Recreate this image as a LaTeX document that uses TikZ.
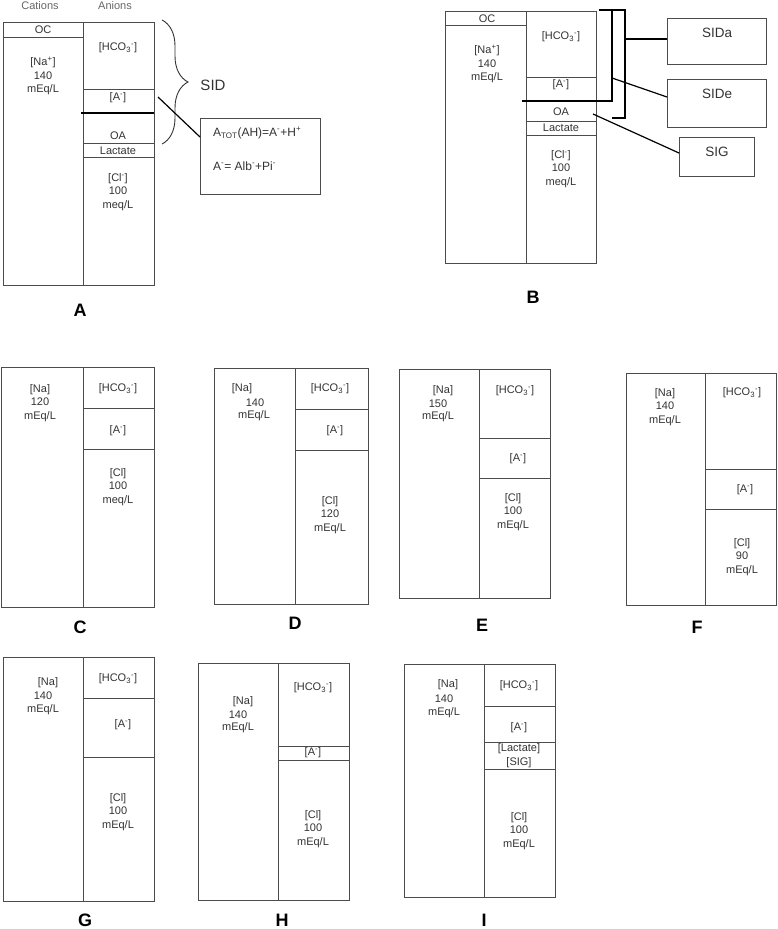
\documentclass[tikz,border=0pt]{standalone}
\usepackage{fontspec}
\setmainfont{Liberation Sans}
\usetikzlibrary{decorations.pathreplacing}
\definecolor{lg}{gray}{0.3}
\definecolor{tg}{gray}{0.2}
\definecolor{hg}{gray}{0.4}
\newcommand{\hco}{[HCO\textsubscript{3}\textsuperscript{-}]}
\newcommand{\amin}{[A\textsuperscript{-}]}
\begin{document}
\begin{tikzpicture}[x=1pt,y=-1pt,
  box/.style={draw=lg,line width=0.7pt},
  t/.style={font=\fontsize{11}{13.5}\selectfont,text=tg,align=center,inner sep=0pt},
  big/.style={font=\fontsize{13.5}{16}\selectfont,text=tg,inner sep=0pt},
  lbl/.style={font=\fontsize{18}{20}\selectfont\bfseries,inner sep=0pt},
  conn/.style={line width=1.2pt,black}]
\useasboundingbox (0,0) rectangle (777,929);

% ---------------- Panel A
\draw[box] (3,22) rectangle (154,285);
\draw[box] (83,22) -- (83,285);
\draw[box] (3,37) -- (83,37);
\draw[box] (83,89) -- (154,89);
\draw[conn] (81,113) -- (154,113);
\draw[box] (83,143) -- (154,143);
\draw[box] (83,157) -- (154,157);
\node[t,text=hg] (cat) at (40,6) {Cations};
\node[t,text=hg] (ani) at (115,6) {Anions};
\node[t] (aoc) at (43,30) {OC};
\node[t] (ana) at (43,76) {[Na\textsuperscript{+}]\\140\\mEq/L};
\node[t] (ahco) at (118,48) {\hco};
\node[t] (aa) at (118,98) {\amin};
\node[t] (aoa) at (118,136) {OA};
\node[t] (alac) at (118,151) {Lactate};
\node[t] (acl) at (118,192) {[Cl\textsuperscript{-}]\\100\\meq/L};
\draw[tg,line width=0.9pt,decorate,decoration={brace,amplitude=26pt}] (162,20) -- (162,144);
\node[font=\fontsize{15}{18}\selectfont,text=tg,inner sep=0pt] (sid) at (213,85) {SID};
\node[box,minimum width=120pt,minimum height=76pt,inner sep=0pt] (atot) at (260,156) {};
\node[font=\fontsize{12}{14}\selectfont,text=tg,anchor=west,inner sep=0pt] (atot1) at (213,133) {A\textsubscript{TOT}(AH)=A\textsuperscript{-}+H\textsuperscript{+}};
\node[font=\fontsize{12}{14}\selectfont,text=tg,anchor=west,inner sep=0pt] (atot2) at (213,166) {A\textsuperscript{-}= Alb\textsuperscript{-}+Pi\textsuperscript{-}};
\coordinate (la1) at (158,97);
\coordinate (la2) at (200,137);
\draw[conn] (la1) -- (la2);
\node[lbl] (labA) at (80,310) {A};

% ---------------- Panel B
\draw[box] (445,11) rectangle (596,263);
\draw[box] (526,11) -- (526,263);
\draw[box] (445,25) -- (526,25);
\draw[box] (526,77) -- (596,77);
\draw[box] (526,121) -- (596,121);
\draw[box] (526,135) -- (596,135);
\draw[conn] (599,10) -- (612,10) -- (612,101) -- (522,101);
\draw[conn] (613,10) -- (625,10) -- (625,118) -- (612,118);
\node[t] (boc) at (487,19) {OC};
\node[t] (bna) at (487,64) {[Na\textsuperscript{+}]\\140\\mEq/L};
\node[t] (bhco) at (561,37) {\hco};
\node[t] (ba) at (561,85) {\amin};
\node[t] (boa) at (561,112) {OA};
\node[t] (blac) at (561,128) {Lactate};
\node[t] (bcl) at (561,169) {[Cl\textsuperscript{-}]\\100\\meq/L};
\node[box,minimum width=99pt,minimum height=46pt,inner sep=0pt] (sida) at (716.5,41) {};
\node[box,minimum width=99pt,minimum height=48pt,inner sep=0pt] (side) at (716.5,103) {};
\node[box,minimum width=75pt,minimum height=39pt,inner sep=0pt] (sig) at (716.5,156.5) {};
\node[big] (sidat) at (717,33) {SIDa};
\node[big] (sidet) at (717,94) {SIDe};
\node[big] (sigt) at (717,152) {SIG};
\coordinate (b1a) at (625,39);
\coordinate (b1b) at (667,39);
\coordinate (b2a) at (612,78);
\coordinate (b2b) at (667,97);
\coordinate (b3a) at (593,114);
\coordinate (b3b) at (679,153);
\draw[conn] (b1a) -- (b1b);
\draw[conn] (b2a) -- (b2b);
\draw[conn] (b3a) -- (b3b);
\node[lbl] (labB) at (533,297) {B};

% ---------------- Panel C
\draw[box] (1,367) rectangle (154,607);
\draw[box] (83,367) -- (83,607);
\draw[box] (83,408) -- (154,408);
\draw[box] (83,449) -- (154,449);
\node[t] (cna) at (40,403) {[Na]\\120\\mEq/L};
\node[t] (chco) at (118,389) {\hco};
\node[t] (ca) at (118,431) {\amin};
\node[t] (ccl) at (118,487) {[Cl]\\100\\meq/L};
\node[lbl] (labC) at (80,627) {C};

% ---------------- Panel D
\draw[box] (214,368) rectangle (368,604);
\draw[box] (295,368) -- (295,604);
\draw[box] (295,409) -- (368,409);
\draw[box] (295,450) -- (368,450);
\node[t] (dna1) at (242,389) {[Na]};
\node[t] (dna2) at (255,403) {140};
\node[t] (dna3) at (254,416) {mEq/L};
\node[t] (dhco) at (330,389) {\hco};
\node[t] (da) at (335,431) {\amin};
\node[t] (dcl) at (330,515) {[Cl]\\120\\mEq/L};
\node[lbl] (labD) at (295,623) {D};

% ---------------- Panel E
\draw[box] (399,369) rectangle (550,598);
\draw[box] (479,369) -- (479,598);
\draw[box] (479,438) -- (550,438);
\draw[box] (479,478) -- (550,478);
\node[t] (ena1) at (443,391) {[Na]};
\node[t] (ena2) at (438,404) {150};
\node[t] (ena3) at (438,417) {mEq/L};
\node[t] (ehco) at (515,391) {\hco};
\node[t] (ea) at (518,459) {\amin};
\node[t] (ecl) at (513,512) {[Cl]\\100\\mEq/L};
\node[lbl] (labE) at (482,625) {E};

% ---------------- Panel F
\draw[box] (626,373) rectangle (776,605);
\draw[box] (705,373) -- (705,605);
\draw[box] (705,469) -- (776,469);
\draw[box] (705,509) -- (776,509);
\node[t] (fna) at (665,407) {[Na]\\140\\mEq/L};
\node[t] (fhco) at (742,393) {\hco};
\node[t] (fa) at (745,490) {\amin};
\node[t] (fcl) at (742,557) {[Cl]\\90\\mEq/L};
\node[lbl] (labF) at (697,627) {F};

% ---------------- Panel G
\draw[box] (3,657) rectangle (154,901);
\draw[box] (83,657) -- (83,901);
\draw[box] (83,698) -- (154,698);
\draw[box] (83,757) -- (154,757);
\node[t] (gna1) at (48,683) {[Na]};
\node[t] (gna2) at (43,696) {140};
\node[t] (gna3) at (43,710) {mEq/L};
\node[t] (ghco) at (118,679) {\hco};
\node[t] (ga) at (123,725) {\amin};
\node[t] (gcl) at (118,812) {[Cl]\\100\\mEq/L};
\node[lbl] (labG) at (85,920) {G};

% ---------------- Panel H
\draw[box] (198,663) rectangle (349,900);
\draw[box] (278,663) -- (278,900);
\draw[box] (278,746) -- (349,746);
\draw[box] (278,760) -- (349,760);
\node[t] (hna1) at (243,702) {[Na]};
\node[t] (hna2) at (238,715) {140};
\node[t] (hna3) at (238,728) {mEq/L};
\node[t] (hhco) at (313,688) {\hco};
\node[t] (ha) at (313,753) {\amin};
\node[t] (hcl) at (313,829) {[Cl]\\100\\mEq/L};
\node[lbl] (labH) at (282,920) {H};

% ---------------- Panel I
\draw[box] (404,664) rectangle (555,897);
\draw[box] (484,664) -- (484,897);
\draw[box] (484,706) -- (555,706);
\draw[box] (484,742) -- (555,742);
\draw[box] (484,769) -- (555,769);
\node[t] (ina1) at (448,685) {[Na]};
\node[t] (ina2) at (444,699) {140};
\node[t] (ina3) at (444,713) {mEq/L};
\node[t] (ihco) at (519,686) {\hco};
\node[t] (ia) at (519,728) {\amin};
\node[t] (ilac) at (519,749) {[Lactate]};
\node[t] (isig) at (519,763) {[SIG]};
\node[t] (icl) at (519,831) {[Cl]\\100\\mEq/L};
\node[lbl] (labI) at (484,920) {I};
\end{tikzpicture}
\end{document}
